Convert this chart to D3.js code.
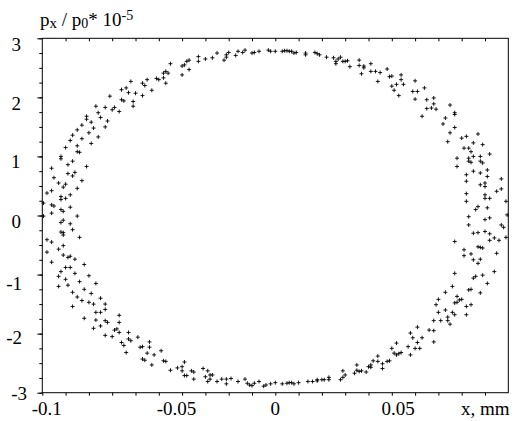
<!DOCTYPE html>
<html>
<head>
<meta charset="utf-8">
<script src="https://cdn.jsdelivr.net/npm/d3@7"></script>
<style>
body { margin: 0; background: #fff; }
text { font-family: "Liberation Serif", "Times New Roman", serif; fill: #000; }
</style>
</head>
<body>
<script>

//SVG dimension variables
var w = 515, h = 421;

//phase space points, x in mm, px/p0 in units of 1e-5 (by region)
var ringTopLeft = [
    [-0.081,1.68],[-0.077,1.85],[-0.076,1.74],[-0.073,1.83],[-0.071,2.02],[-0.070,1.79],[-0.069,1.83],[-0.067,1.76],
    [-0.066,1.96],[-0.065,1.94],[-0.066,2.13],[-0.064,2.16],[-0.063,2.08],[-0.062,2.27],[-0.061,1.93],[-0.061,1.85],
    [-0.060,2.07],[-0.057,2.03],[-0.057,2.24],[-0.056,2.20],[-0.055,2.30],[-0.053,2.12],[-0.051,2.32],[-0.050,2.30],
    [-0.048,2.41],[-0.048,2.33],[-0.047,2.24],[-0.047,2.44],[-0.046,2.41],[-0.045,2.57],[-0.040,2.38],[-0.040,2.53],
    [-0.039,2.55],[-0.038,2.61],[-0.037,2.47],[-0.037,2.63],[-0.033,2.61],[-0.033,2.69],[-0.030,2.65],[-0.027,2.67],
    [-0.025,2.75],[-0.022,2.63],[-0.021,2.68],[-0.021,2.72],[-0.020,2.76],[-0.017,2.71],[-0.016,2.78],[-0.014,2.76],
    [-0.013,2.80],[-0.010,2.75],[-0.009,2.76],[-0.007,2.78],[-0.003,2.80],[-0.002,2.78]
];
var ringTopRight = [
    [0.000,2.78],[0.003,2.78],[0.004,2.79],[0.005,2.79],[0.006,2.78],[0.007,2.78],[0.008,2.75],[0.009,2.76],
    [0.013,2.75],[0.013,2.72],[0.017,2.76],[0.018,2.74],[0.019,2.72],[0.022,2.68],[0.025,2.67],[0.026,2.61],
    [0.026,2.57],[0.027,2.65],[0.028,2.68],[0.029,2.61],[0.030,2.61],[0.031,2.62],[0.032,2.52],[0.036,2.63],
    [0.036,2.54],[0.038,2.53],[0.038,2.50],[0.037,2.40],[0.041,2.57],[0.041,2.44],[0.043,2.44],[0.045,2.42],
    [0.044,2.27],[0.048,2.48],[0.049,2.35],[0.050,2.36],[0.054,2.38],[0.054,2.30],[0.052,2.22],[0.050,2.19],
    [0.051,2.12],[0.055,2.22],[0.053,2.03],[0.060,2.28],[0.059,2.10],[0.061,2.10],[0.060,1.97],[0.064,2.16],
    [0.065,1.96],[0.065,1.81],[0.068,1.89],[0.068,1.99],[0.067,1.82],[0.069,1.80],[0.063,1.68],[0.075,1.87],
    [0.077,1.74],[0.073,1.65]
];
var ringRight = [
    [0.077,1.71],[0.077,1.49],[0.080,1.31],[0.082,1.34],[0.087,1.38],[0.085,1.23],[0.089,1.20],[0.081,1.14],
    [0.083,1.14],[0.084,1.08],[0.078,0.97],[0.083,0.97],[0.085,1.00],[0.088,1.00],[0.092,1.04],[0.078,0.83],
    [0.083,0.92],[0.084,0.90],[0.088,0.92],[0.089,0.89],[0.082,0.69],[0.085,0.75],[0.088,0.72],[0.091,0.77],
    [0.082,0.58],[0.088,0.52],[0.090,0.55],[0.090,0.49],[0.091,0.66],[0.097,0.62],[0.095,0.41],[0.097,0.45],
    [0.082,0.37],[0.090,0.35],[0.090,0.29],[0.092,0.29],[0.082,0.24],[0.099,0.24],[0.087,0.15],[0.086,0.10],
    [0.091,0.13],[0.083,-0.02],[0.0995,0.01],[0.090,-0.07],[0.092,-0.04],[0.083,-0.16],[0.097,-0.16],[0.098,-0.20],
    [0.099,-0.37],[0.087,-0.29],[0.090,-0.27],[0.092,-0.31],[0.085,-0.30],[0.092,-0.42],[0.094,-0.38],[0.096,-0.42],
    [0.087,-0.53],[0.088,-0.54],[0.089,-0.55],[0.077,-0.44],[0.081,-0.58],[0.084,-0.65],[0.095,-0.64],[0.081,-0.68],
    [0.088,-0.74],[0.087,-0.81],[0.085,-0.75],[0.085,-1.06],[0.086,-1.03],[0.089,-1.01],[0.094,-0.95],[0.077,-0.98],
    [0.091,-1.15],[0.088,-1.31],[0.084,-1.25],[0.083,-1.26],[0.078,-1.37],[0.079,-1.43],[0.078,-1.47],[0.080,-1.42],
    [0.082,-1.54],[0.084,-1.51],[0.082,-1.68],[0.077,-1.48],[0.074,1.25],[0.072,1.55],[0.075,1.40],[0.076,-1.20],
    [0.073,-1.30],[0.070,-1.42]
];
var ringBottomRight = [
    [0.069,-1.51],[0.070,-1.64],[0.071,-1.78],[0.073,-1.60],[0.074,-1.78],[0.074,-1.72],[0.075,-1.84],[0.076,-1.64],
    [0.077,-1.68],[0.068,-1.78],[0.068,-1.95],[0.066,-1.94],[0.068,-2.14],[0.063,-2.07],[0.062,-2.25],[0.061,-2.15],
    [0.061,-1.89],[0.060,-2.25],[0.059,-2.07],[0.058,-1.99],[0.058,-2.36],[0.057,-2.22],[0.054,-2.32],[0.053,-2.34],
    [0.052,-2.36],[0.052,-2.16],[0.051,-2.33],[0.050,-2.25],[0.049,-2.46],[0.048,-2.47],[0.046,-2.51],[0.046,-2.59],
    [0.044,-2.47],[0.044,-2.38],[0.042,-2.46],[0.041,-2.53],[0.041,-2.57],[0.040,-2.56],[0.039,-2.65],[0.037,-2.63],
    [0.036,-2.64],[0.035,-2.53],[0.035,-2.62],[0.034,-2.67],[0.029,-2.63],[0.030,-2.70],[0.029,-2.74],[0.028,-2.78],
    [0.023,-2.74],[0.023,-2.78],[0.021,-2.78],[0.020,-2.78],[0.018,-2.80],[0.018,-2.78],[0.016,-2.81],[0.014,-2.81],
    [0.010,-2.83],[0.008,-2.85],[0.007,-2.83],[0.006,-2.83],[0.005,-2.84],[0.003,-2.85],[0.000,-2.83]
];
var ringBottomLeft = [
    [-0.002,-2.85],[-0.004,-2.87],[-0.005,-2.89],[-0.007,-2.81],[-0.009,-2.84],[-0.010,-2.88],[-0.011,-2.87],[-0.012,-2.84],
    [-0.013,-2.77],[-0.016,-2.81],[-0.019,-2.76],[-0.021,-2.85],[-0.021,-2.77],[-0.023,-2.77],[-0.025,-2.81],[-0.027,-2.70],
    [-0.028,-2.70],[-0.028,-2.77],[-0.029,-2.81],[-0.029,-2.63],[-0.030,-2.73],[-0.031,-2.59],[-0.035,-2.77],[-0.035,-2.65],
    [-0.036,-2.63],[-0.038,-2.71],[-0.039,-2.71],[-0.040,-2.63],[-0.039,-2.48],[-0.040,-2.56],[-0.042,-2.58],[-0.045,-2.62],
    [-0.047,-2.47],[-0.048,-2.46],[-0.049,-2.29],[-0.053,-2.53],[-0.052,-2.36],[-0.056,-2.45],[-0.057,-2.43],[-0.055,-2.33],
    [-0.054,-2.23],[-0.054,-2.14],[-0.057,-2.22],[-0.058,-2.23],[-0.059,-2.06],[-0.064,-2.32],[-0.062,-2.12],[-0.063,-2.09],
    [-0.063,-1.98],[-0.065,-2.20],[-0.066,-2.15],[-0.067,-1.69],[-0.067,-1.81],[-0.068,-1.92],[-0.067,-1.98],[-0.069,-1.94],
    [-0.070,-2.05],[-0.072,-1.81],[-0.073,-1.78],[-0.073,-1.59],[-0.073,-1.50],[-0.073,-2.03],[-0.075,-1.87],[-0.075,-1.64],
    [-0.077,-1.64],[-0.077,-1.77],[-0.078,-1.91],[-0.080,-1.47],[-0.082,-1.74],[-0.087,-1.54]
];
var ringLeft = [
    [-0.092,1.00],[-0.092,0.96],[-0.085,1.08],[-0.084,1.07],[-0.087,0.92],[-0.089,0.86],[-0.081,0.83],[-0.096,0.80],
    [-0.089,0.71],[-0.086,0.73],[-0.087,0.67],[-0.095,0.64],[-0.083,0.59],[-0.093,0.55],[-0.090,0.53],[-0.091,0.48],
    [-0.085,0.46],[-0.096,0.42],[-0.098,0.38],[-0.088,0.35],[-0.092,0.32],[-0.090,0.29],[-0.092,0.27],[-0.0995,0.21],
    [-0.096,0.18],[-0.095,0.16],[-0.088,0.14],[-0.092,0.10],[-0.091,0.07],[-0.096,0.04],[-0.085,-0.01],[-0.0995,-0.01],
    [-0.091,-0.08],[-0.092,-0.12],[-0.088,-0.14],[-0.087,-0.24],[-0.092,-0.28],[-0.091,-0.29],[-0.091,-0.33],[-0.084,-0.37],
    [-0.098,-0.41],[-0.096,-0.45],[-0.091,-0.51],[-0.093,-0.57],[-0.098,-0.62],[-0.091,-0.67],[-0.089,-0.71],[-0.088,-0.69],
    [-0.086,-0.74],[-0.096,-0.79],[-0.082,-0.83],[-0.090,-0.88],[-0.088,-0.88],[-0.093,-1.03],[-0.093,-1.20],
    [-0.090,1.15],[-0.085,1.18],[-0.079,1.22],[-0.088,1.27],[-0.083,1.30],[-0.076,1.33],[-0.087,1.36],[-0.080,1.40],
    [-0.085,1.45],[-0.078,1.48],[-0.073,1.50],[-0.083,1.53],[-0.079,1.58],[-0.072,1.60],[-0.081,1.63],[-0.075,1.66],
    [-0.092,-0.95],[-0.086,-0.98],[-0.080,-1.02],[-0.090,-1.08],[-0.084,-1.12],[-0.077,-1.15],[-0.089,-1.18],[-0.082,-1.25],
    [-0.087,-1.30],[-0.079,-1.32],[-0.085,-1.38],[-0.075,-1.40],[-0.083,-1.44],[-0.078,-1.50]
];

//axis ticks and labels
var xDomain = [-0.1, 0.1];
var yDomain = [-3, 3];
var xTickLabels = [-0.1, -0.05, 0, 0.05];
var yTickLabels = [3, 2, 1, 0, -1, -2, -3];
var xAxisTitle = "x, mm";

//plot frame in pixels
var plotLeft = 42.3, plotRight = 508.3, plotTop = 38.3, plotBottom = 392.7;

//label nudges (the original labels are not set exactly on their ticks)
var xLabelNudge = [4.4, 17.7, 0, 6.4];
var yLabelDy = [12.9, 12.4, 12, 12.2, 15.7, 10, 6.8];
var yLabelX = [21, 21, 20.5, 21, 22, 22, 27];

window.onload = function(){

    var svg = d3.select("body")
        .append("svg")
        .attr("width", w)
        .attr("height", h);

    var x = d3.scaleLinear().domain(xDomain).range([plotLeft, plotRight]);
    var y = d3.scaleLinear().domain(yDomain).range([plotBottom, plotTop]);

    //ticks every 0.01 mm on bottom (outward) and top (inward)
    var xTicks = d3.range(-10, 10).map(function(d){ return d / 100; });
    svg.append("g")
        .attr("transform", "translate(0," + plotBottom + ")")
        .call(d3.axisBottom(x).tickValues(xTicks).tickSize(3).tickSizeOuter(0).tickFormat(""));
    svg.append("g")
        .attr("transform", "translate(0," + plotTop + ")")
        .call(d3.axisBottom(x).tickValues(xTicks.slice(1)).tickSize(3).tickSizeOuter(0).tickFormat(""));

    //left ticks, minor every 0.25 and major every 1
    svg.append("g")
        .attr("transform", "translate(" + plotLeft + ",0)")
        .call(d3.axisLeft(y).tickValues(d3.range(-12, 13).map(function(d){ return d / 4; })).tickSize(3).tickSizeOuter(0).tickFormat(""));
    svg.append("g")
        .attr("transform", "translate(" + plotLeft + ",0)")
        .call(d3.axisLeft(y).tickValues(yTickLabels).tickSize(5).tickSizeOuter(0).tickFormat(""));

    svg.selectAll(".domain").remove();
    svg.selectAll(".tick line").attr("stroke", "#000").attr("stroke-width", 1);

    //frame
    svg.append("rect")
        .attr("x", plotLeft)
        .attr("y", plotTop)
        .attr("width", plotRight - plotLeft)
        .attr("height", plotBottom - plotTop)
        .attr("fill", "none")
        .attr("stroke", "#000")
        .attr("stroke-width", 1);

    //tick labels
    svg.selectAll(".xlab")
        .data(xTickLabels)
        .enter()
        .append("text")
        .attr("class", "xlab")
        .attr("x", function(d, i){ return x(d) + xLabelNudge[i]; })
        .attr("y", 415)
        .attr("text-anchor", "middle")
        .style("font-size", "19px")
        .text(function(d){ return String(d); });

    svg.selectAll(".ylab")
        .data(yTickLabels)
        .enter()
        .append("text")
        .attr("class", "ylab")
        .attr("x", function(d, i){ return yLabelX[i]; })
        .attr("y", function(d, i){ return y(d) + yLabelDy[i]; })
        .attr("text-anchor", "end")
        .style("font-size", "19px")
        .text(function(d){ return String(d); });

    svg.append("text")
        .attr("x", 461)
        .attr("y", 415)
        .style("font-size", "19px")
        .text(xAxisTitle);

    //y title: px / p0 * 10^-5
    var title = svg.append("text")
        .attr("x", 40)
        .attr("y", 25.5)
        .style("font-size", "19px");
    title.append("tspan").text("p");
    title.append("tspan").attr("dy", 2).style("font-size", "15px").text("x");
    title.append("tspan").attr("dy", -2).text(" / p");
    title.append("tspan").attr("dy", 2).style("font-size", "14px").text("0");
    title.append("tspan").attr("dy", -2).text("* 10");
    title.append("tspan").attr("dy", -6).style("font-size", "14px").text("-5");

    //points drawn as small crosses
    var points = ringTopLeft.concat(ringTopRight, ringRight, ringBottomRight, ringBottomLeft, ringLeft);
    svg.append("g")
        .selectAll("path")
        .data(points)
        .enter()
        .append("path")
        .attr("transform", function(d){ return "translate(" + x(d[0]) + "," + y(d[1]) + ")"; })
        .attr("d", "M-2,0H2M0,-2V2")
        .attr("stroke", "#000")
        .attr("stroke-width", 0.9)
        .attr("fill", "none");
};

</script>
</body>
</html>
